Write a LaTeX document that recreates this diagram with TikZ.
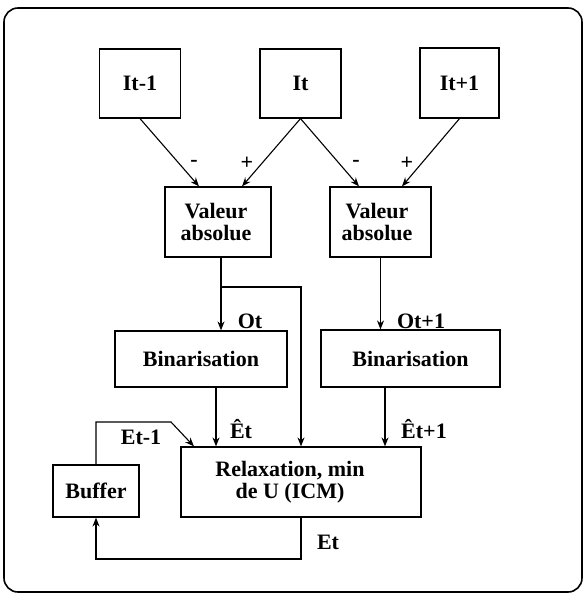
\documentclass[tikz,border=0pt]{standalone}
\usepackage{fontspec}
\setmainfont{Liberation Serif}
\usetikzlibrary{arrows.meta}
\begin{document}
\begin{tikzpicture}[x=1pt,y=-1pt,
  every node/.style={font=\fontsize{22}{24}\selectfont\bfseries},
  box/.style={draw,line width=1.2pt,rectangle,inner sep=0pt,align=center},
  arr/.style={line width=1.1pt,-{Stealth[length=9pt,width=7pt]}},
  lab/.style={inner sep=0pt}]
\useasboundingbox (0,0) rectangle (584,594);
\draw[line width=1.6pt,rounded corners=14pt] (4,8) rectangle (582,592);
% boxes
\node[box,minimum width=81pt,minimum height=69pt] (im1) at (140,83.5) {It-1};
\node[box,minimum width=81pt,minimum height=69pt] (it) at (300.5,83.5) {It};
\node[box,minimum width=79pt,minimum height=70pt] (ip1) at (459.5,83) {It+1};
\node[box,minimum width=106pt,minimum height=70pt] (va1) at (218,222) {};
\node[lab,align=center] at (216,222) {Valeur\\[-2pt]absolue};
\node[box,minimum width=101pt,minimum height=70pt] (va2) at (380.5,222) {};
\node[lab,align=center] at (377,222) {Valeur\\[-2pt]absolue};
\node[box,minimum width=172pt,minimum height=56pt] (bin1) at (201,359) {Binarisation};
\node[box,minimum width=179pt,minimum height=57pt] (bin2) at (410.5,358.5) {Binarisation};
\node[box,minimum width=240pt,minimum height=70pt] (rel) at (301,482) {};
\node[lab,align=center] at (290,482) {Relaxation, min\\[-2pt]de U (ICM)};
\node[box,minimum width=86pt,minimum height=52pt] (buf) at (96,491) {Buffer};
% coordinates
\coordinate (j1) at (221,287);
\coordinate (c1) at (171,422);
\coordinate (c2) at (301,559);
% connectors
\draw[arr] (im1.south) -- ([xshift=-19pt]va1.north);
\draw[arr] (it.south) -- ([xshift=24pt]va1.north);
\draw[arr] (it.south) -- ([xshift=-21.5pt]va2.north);
\draw[arr] (ip1.south) -- ([xshift=21.5pt]va2.north);
\draw[arr] ([xshift=3pt]va1.south) -- ([xshift=3pt]va1.south |- bin1.north);
\draw[arr] (j1) -| (rel.north);
\draw[arr] (va2.south) -- (va2.south |- bin2.north);
\draw[arr] ([xshift=15pt]bin1.south) -- ([xshift=15pt]bin1.south |- rel.north);
\draw[arr] ([xshift=-25.5pt]bin2.south) -- ([xshift=-25.5pt]bin2.south |- rel.north);
\draw[arr] (buf.north) |- (c1) -- ([xshift=-107pt]rel.north);
\draw[arr] (rel.south) -- (c2) -| (buf.south);
% labels
\node[lab] (m1) at (194,163) {-};
\node[lab] (p1) at (247,163) {+};
\node[lab] (m2) at (356,163) {-};
\node[lab] (p2) at (407,163) {+};
\node[lab] (ot) at (250,321) {Ot};
\node[lab] (ot1) at (421,321) {Ot+1};
\node[lab] (et) at (241,429) {\^{E}t};
\node[lab] (et1) at (424,429) {\^{E}t+1};
\node[lab] (etm1) at (141,437) {Et-1};
\node[lab] (ett) at (328,542) {Et};
\end{tikzpicture}
\end{document}
